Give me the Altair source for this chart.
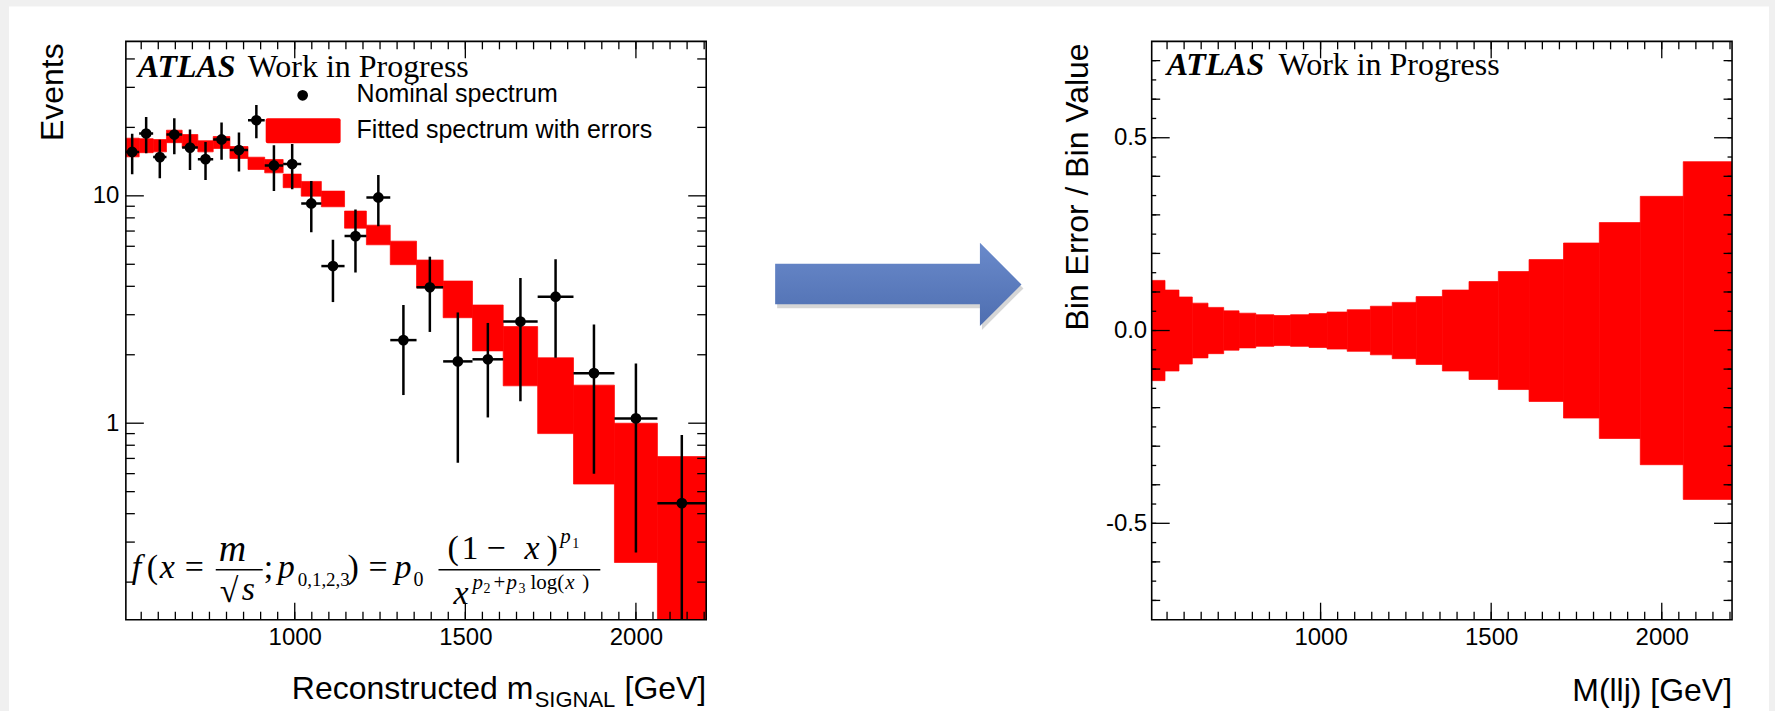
import altair as alt
import pandas as pd

# ---------------- values ----------------
bin_edges = [503, 544, 585, 624, 670, 716, 761, 810, 863, 912, 966, 1019, 1078,
             1146, 1210, 1280, 1357, 1435, 1521, 1611, 1712, 1817, 1937, 2063, 2206]
nominal = [15.6, 18.8, 14.8, 18.6, 16.3, 14.5, 17.7, 15.9, 21.5, 13.6, 13.8, 9.26,
           4.91, 6.65, 9.84, 2.32, 3.96, 1.87, 1.91, 2.80, 3.60, 1.66, 1.05, 0.445]
nominal_err = [3.15, 3.4, 2.85, 3.35, 3.3, 2.75, 3.3, 3.1, 3.6, 3.1, 3.1, 2.35,
               1.5, 2.05, 2.5, 0.99, 1.44, 1.2, 0.85, 1.55, 1.66, 1.06, 0.78, 0.443]
fit_low = [14.84, 15.48, 15.61, 17.13, 16.28, 15.61, 16.15, 14.60, 13.06, 12.62, 10.86, 9.97,
           8.95, 7.21, 6.09, 4.98, 3.94, 2.91, 2.08, 1.46, 0.90, 0.54, 0.244, 0.10]
fit_high = [17.93, 17.84, 17.69, 19.44, 18.61, 17.48, 18.24, 16.48, 14.79, 14.45, 12.46, 11.57,
            10.49, 8.57, 7.43, 6.32, 5.22, 4.22, 3.31, 2.66, 1.94, 1.47, 1.00, 0.713]
rel_err = [0.130, 0.105, 0.087, 0.071, 0.060, 0.051, 0.045, 0.041, 0.039, 0.041, 0.044, 0.048,
           0.054, 0.063, 0.073, 0.088, 0.105, 0.127, 0.153, 0.184, 0.227, 0.280, 0.348, 0.438]

x_major = [1000, 1500, 2000]
x_minor = [550 + 50 * i for i in range(34)]
ylog_major = [1, 10]
ylog_minor = [0.2, 0.3, 0.4, 0.5, 0.6, 0.7, 0.8, 0.9, 2, 3, 4, 5, 6, 7, 8, 9, 20, 30, 40]
ylin_major = [-0.5, 0.0, 0.5]
ylin_mid = [-0.7, -0.6, -0.4, -0.3, -0.2, -0.1, 0.1, 0.2, 0.3, 0.4, 0.6, 0.7]
ylin_small = [-0.75 + 0.05 * i for i in range(1, 30)]

# ---------------- tables ----------------
df = pd.DataFrame({
    "lo": bin_edges[:-1], "hi": bin_edges[1:],
    "nom": nominal, "err": nominal_err,
    "fit_low": fit_low, "fit_high": fit_high, "rel": rel_err,
})
df["center"] = (df["lo"] + df["hi"]) / 2
df["nom_lo"] = (df["nom"] - df["err"]).clip(lower=0.001)
df["nom_hi"] = df["nom"] + df["err"]
df["rel_dn"] = -df["rel"]
one = pd.DataFrame({"k": [0]})

SANS = "Liberation Sans, Arial, Helvetica, sans-serif"
SERIF = "Liberation Serif, Times New Roman, serif"
W, H = 581, 579
OX, OY = 125, 40  # left plot origin on the page

x_scale = alt.Scale(domain=[505, 2206], nice=False, zero=False)
y_log = alt.Scale(type="log", domain=[0.1367, 47.8], nice=False)
y_lin = alt.Scale(domain=[-0.75, 0.75], nice=False, zero=False)

common = dict(ticks=False, tickSize=0, domain=False, grid=False, labelFont=SANS,
              labelFontSize=24, labelColor="black", zindex=1, title=None)
x_axis = alt.Axis(values=x_major, format="d", labelPadding=6, labelFlush=False, **common)
y_axis_log = alt.Axis(values=ylog_major, format="~g", labelPadding=7, **common)
y_axis_lin = alt.Axis(values=ylin_major, labelPadding=5,
                      labelExpr="replace(format(datum.value, '.1f'), '\u2212', '-')", **common)


def X(field):
    return alt.X(field, scale=x_scale, axis=x_axis)


def YL(field):
    return alt.Y(field, scale=y_log, axis=y_axis_log)


def YR(field):
    return alt.Y(field, scale=y_lin, axis=y_axis_lin)


def xticks(vals, length):
    d = pd.DataFrame({"v": vals})
    base = alt.Chart(d).mark_rule(color="black", strokeWidth=1.3)
    return [
        base.encode(x=X("v:Q"), y=alt.value(H), y2=alt.value(H - length)),
        base.encode(x=X("v:Q"), y=alt.value(0), y2=alt.value(length)),
    ]


def yticks(vals, length, Yenc):
    d = pd.DataFrame({"v": vals})
    base = alt.Chart(d).mark_rule(color="black", strokeWidth=1.3)
    return [
        base.encode(y=Yenc("v:Q"), x=alt.value(0), x2=alt.value(length)),
        base.encode(y=Yenc("v:Q"), x=alt.value(W - length), x2=alt.value(W)),
    ]


def txt(s, x, y, size, font=SANS, style="normal", weight="normal", align="left",
        baseline="alphabetic", angle=0):
    return alt.Chart(one).mark_text(
        text=s, font=font, fontSize=size, fontStyle=style, fontWeight=weight,
        align=align, baseline=baseline, angle=angle, color="black"
    ).encode(x=alt.value(x), y=alt.value(y))


def hline(x1, x2, y, width=1.5):
    return alt.Chart(one).mark_rule(color="black", strokeWidth=width).encode(
        x=alt.value(x1), x2=alt.value(x2), y=alt.value(y))


frame = alt.Chart(one).mark_rect(fillOpacity=0, stroke="black", strokeWidth=1.6).encode(
    x=alt.value(0), x2=alt.value(W), y=alt.value(0), y2=alt.value(H))

# ---------------- left panel ----------------
page_bg = alt.Chart(one).mark_rect(color="white").encode(
    x=alt.value(8 - OX), x2=alt.value(1770 - OX), y=alt.value(5 - OY), y2=alt.value(711 - OY))

fit = alt.Chart(df).mark_rect(color="#ff0000", stroke="#ff0000", strokeWidth=0.7,
                              clip=True).encode(
    x=X("lo:Q"), x2="hi:Q", y=YL("fit_low:Q"), y2="fit_high:Q")
vbar = alt.Chart(df).mark_rule(color="black", strokeWidth=2.5, clip=True).encode(
    x=X("center:Q"), y=YL("nom_lo:Q"), y2="nom_hi:Q")
hbar = alt.Chart(df).mark_rule(color="black", strokeWidth=2.5, clip=True).encode(
    x=X("lo:Q"), x2="hi:Q", y=YL("nom:Q"))
dots = alt.Chart(df).mark_circle(color="black", size=115, opacity=1).encode(
    x=X("center:Q"), y=YL("nom:Q"))

left_ticks = (xticks(x_minor, 8) + xticks(x_major, 17)
              + yticks(ylog_minor, 9, YL) + yticks(ylog_major, 18, YL))

# legend
leg_dot = alt.Chart(one).mark_circle(color="black", size=115, opacity=1).encode(
    x=alt.value(177), y=alt.value(54))
leg_box = alt.Chart(one).mark_rect(color="#ff0000", cornerRadius=2).encode(
    x=alt.value(140), x2=alt.value(215), y=alt.value(77), y2=alt.value(102))
leg_t1 = txt("Nominal spectrum", 231, 61, 25)
leg_t2 = txt("Fitted spectrum with errors", 231, 97, 25)

atlas_l = [txt("ATLAS", 12, 36, 32, font=SERIF, style="italic", weight="bold"),
           txt("Work in Progress", 122, 36, 32, font=SERIF)]

events_title = txt("Events", 62 - OX, 2, 32, align="right", angle=270)
xt_left = [txt("Reconstructed m", 408, 658, 32, align="right"),
           txt("SIGNAL", 490, 666, 22, align="right"),
           txt("[GeV]", 581, 658, 32, align="right")]

# formula pieces (text, x, baseline, size, italic) in page coordinates
formula = [
    ("f", 131, 577, 34, True), ("(", 146, 577, 34, False), ("x", 159, 577, 34, True),
    ("=", 184, 577, 34, False), ("m", 218, 560, 38, True),
    ("\u221a", 219, 601, 34, False), ("s", 241, 599, 34, True),
    (";", 263, 577, 34, False), ("p", 277, 577, 34, True), ("0,1,2,3", 297, 585, 19, False),
    (")", 347, 577, 34, False), ("=", 368, 577, 34, False), ("p", 394, 577, 34, True),
    ("0", 413, 585, 20, False),
    ("(", 447, 558, 34, False), ("1", 461, 558, 34, False), ("\u2212", 486, 558, 34, False),
    ("x", 524, 558, 34, True), (")", 546, 558, 34, False),
    ("p", 560, 542, 21, True), ("1", 572, 547, 14, False),
    ("x", 453, 603, 34, True), ("p", 472, 588, 21, True), ("2", 483, 592, 14, False),
    ("+", 493, 588, 21, False), ("p", 506, 588, 21, True), ("3", 518, 592, 14, False),
    ("log(", 530, 588, 21, False), ("x", 565, 588, 21, True), (")", 582, 588, 21, False),
]
formula_layers = [txt(t, x - OX, y - OY, s, font=SERIF, style="italic" if it else "normal")
                  for (t, x, y, s, it) in formula]
formula_layers += [hline(215 - OX, 262 - OX, 569 - OY), hline(438 - OX, 600 - OX, 569 - OY)]

# arrow between the panels
arrow_path = ("M -0.987 -0.165 L 0.653 -0.165 L 0.653 -0.333 L 0.986 0 "
              "L 0.653 0.333 L 0.653 0.160 L -0.987 0.160 Z")
grad = alt.LinearGradient(gradient="linear",
                          stops=[alt.GradientStop(color="#6a8acb", offset=0),
                                 alt.GradientStop(color="#4e6eb0", offset=1)],
                          x1=0, x2=0, y1=0, y2=1)
arrow_shadow = alt.Chart(one).mark_point(shape=arrow_path, size=62500, filled=True,
                                         fill="#000000", opacity=0.16, strokeWidth=0).encode(
    x=alt.value(898.4 - OX + 2), y=alt.value(283.3 - OY + 4))
arrow = alt.Chart(one).mark_point(shape=arrow_path, size=62500, filled=True,
                                  fill=grad, opacity=1, strokeWidth=0).encode(
    x=alt.value(898.4 - OX), y=alt.value(283.3 - OY))

left = alt.layer(
    page_bg, fit, hbar, vbar, dots, *left_ticks, frame,
    leg_dot, leg_box, leg_t1, leg_t2, *atlas_l, events_title, *xt_left,
    *formula_layers, arrow_shadow, arrow,
).properties(width=W, height=H)

# ---------------- right panel ----------------
band = alt.Chart(df).mark_rect(color="#ff0000", stroke="#ff0000", strokeWidth=0.7,
                               clip=True).encode(
    x=X("lo:Q"), x2="hi:Q", y=YR("rel_dn:Q"), y2="rel:Q")

right_ticks = (xticks(x_minor, 8) + xticks(x_major, 17)
               + yticks(ylin_small, 4.5, YR) + yticks(ylin_mid, 8.5, YR)
               + yticks(ylin_major, 18, YR))

atlas_r = [txt("ATLAS", 15, 34, 32, font=SERIF, style="italic", weight="bold"),
           txt("Work in Progress", 127, 34, 32, font=SERIF)]
ratio_title = txt("Bin Error / Bin Value", 1088 - 1152, 2, 32, align="right", angle=270)
xt_right = txt("M(llj) [GeV]", 581, 660, 32, align="right")

right = alt.layer(
    band, *right_ticks, frame, *atlas_r, ratio_title, xt_right,
).properties(width=W, height=H)

chart = alt.hconcat(left, right, spacing=446, bounds="flush").properties(
    padding={"left": 8, "top": 5, "right": 5, "bottom": 0},
    background="#f0f0f0",
).configure_view(stroke="transparent")

chart.save("out.html", embed_options={"renderer": "svg", "actions": False})
